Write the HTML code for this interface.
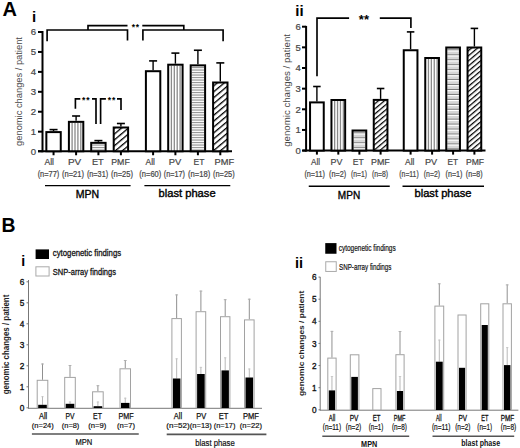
<!DOCTYPE html>
<html><head><meta charset="utf-8"><style>
html,body{margin:0;padding:0;background:#fff;width:520px;height:448px;overflow:hidden}
svg{display:block}
text{font-family:"Liberation Sans", sans-serif}
</style></head><body>
<svg width="520" height="448" viewBox="0 0 520 448">
<defs>
<pattern id="pv" patternUnits="userSpaceOnUse" width="2.6" height="10" x="0"><rect width="2.6" height="10" fill="#fff"/><rect x="0" width="1.4" height="10" fill="#9a9a9a"/></pattern>
<pattern id="et" patternUnits="userSpaceOnUse" width="10" height="2.6" y="0"><rect width="10" height="2.6" fill="#fff"/><rect y="0" width="10" height="1.3" fill="#999"/></pattern>
<pattern id="et2" patternUnits="userSpaceOnUse" width="10" height="4.9" y="0"><rect width="10" height="4.9" fill="#dcdcdc"/><rect y="0" width="10" height="1.1" fill="#7a7a7a"/><rect y="1.4" width="10" height="1.1" fill="#fff"/></pattern>
<pattern id="pmf" patternUnits="userSpaceOnUse" width="4.5" height="10" patternTransform="rotate(50)"><rect width="4.5" height="10" fill="#fff"/><rect x="0" width="1.3" height="10" fill="#000"/></pattern>
<pattern id="pmf2" patternUnits="userSpaceOnUse" width="3.9" height="10" patternTransform="rotate(50)"><rect width="3.9" height="10" fill="#fff"/><rect x="0" width="1.25" height="10" fill="#000"/></pattern>
</defs>
<rect width="520" height="448" fill="#fff"/>
<text x="2.6" y="15.7" font-size="20" font-weight="bold" text-anchor="start" fill="#000">A</text>
<text x="1.4" y="231.8" font-size="19.4" font-weight="bold" text-anchor="start" fill="#000">B</text>
<line x1="42.5" y1="31.0" x2="42.5" y2="152.25" stroke="#000" stroke-width="2"/>
<line x1="38" y1="151.25" x2="42.5" y2="151.25" stroke="#000" stroke-width="2"/>
<text x="36.2" y="154.7" font-size="9.6" font-weight="normal" text-anchor="end" fill="#474747" stroke="#474747" stroke-width="0.22">0</text>
<line x1="38" y1="131.67" x2="42.5" y2="131.67" stroke="#000" stroke-width="2"/>
<text x="36.2" y="134.76999999999998" font-size="9.6" font-weight="normal" text-anchor="end" fill="#474747" stroke="#474747" stroke-width="0.22">1</text>
<line x1="38" y1="111.74" x2="42.5" y2="111.74" stroke="#000" stroke-width="2"/>
<text x="36.2" y="114.83999999999999" font-size="9.6" font-weight="normal" text-anchor="end" fill="#474747" stroke="#474747" stroke-width="0.22">2</text>
<line x1="38" y1="91.81" x2="42.5" y2="91.81" stroke="#000" stroke-width="2"/>
<text x="36.2" y="94.91" font-size="9.6" font-weight="normal" text-anchor="end" fill="#474747" stroke="#474747" stroke-width="0.22">3</text>
<line x1="38" y1="71.88" x2="42.5" y2="71.88" stroke="#000" stroke-width="2"/>
<text x="36.2" y="74.97999999999999" font-size="9.6" font-weight="normal" text-anchor="end" fill="#474747" stroke="#474747" stroke-width="0.22">4</text>
<line x1="38" y1="51.94999999999999" x2="42.5" y2="51.94999999999999" stroke="#000" stroke-width="2"/>
<text x="36.2" y="55.04999999999999" font-size="9.6" font-weight="normal" text-anchor="end" fill="#474747" stroke="#474747" stroke-width="0.22">5</text>
<line x1="38" y1="32.019999999999996" x2="42.5" y2="32.019999999999996" stroke="#000" stroke-width="2"/>
<text x="36.2" y="35.12" font-size="9.6" font-weight="normal" text-anchor="end" fill="#474747" stroke="#474747" stroke-width="0.22">6</text>
<line x1="38" y1="151.25" x2="232" y2="151.25" stroke="#000" stroke-width="2"/>
<text transform="translate(22,91.5) rotate(-90)" x="0" y="0" font-size="9.3" font-weight="normal" text-anchor="middle" fill="#474747" textLength="108.8" lengthAdjust="spacingAndGlyphs">genomic changes / patient</text>
<text x="32" y="22" font-size="15" font-weight="bold" text-anchor="start" fill="#000">i</text>
<line x1="53.55" y1="129.6" x2="53.55" y2="131.1" stroke="#000" stroke-width="1.4"/>
<line x1="49.55" y1="129.6" x2="57.55" y2="129.6" stroke="#000" stroke-width="1.6"/>
<rect x="46.35" y="132.10" width="14.40" height="19.15" fill="#fff" stroke="none" stroke-width="0"/>
<rect x="46.35" y="132.10" width="14.40" height="19.15" fill="none" stroke="#000" stroke-width="2"/>
<line x1="53.55" y1="151.25" x2="53.55" y2="155.25" stroke="#000" stroke-width="2"/>
<line x1="76.1" y1="116" x2="76.1" y2="120.85" stroke="#000" stroke-width="1.4"/>
<line x1="72.1" y1="116" x2="80.1" y2="116" stroke="#000" stroke-width="1.6"/>
<rect x="68.90" y="121.85" width="14.40" height="29.40" fill="#fff" stroke="none" stroke-width="0"/>
<rect x="71.45" y="122.85" width="1.30" height="28.40" fill="#8a8a8a" stroke="none" stroke-width="0"/>
<rect x="74.35" y="122.85" width="1.30" height="28.40" fill="#8a8a8a" stroke="none" stroke-width="0"/>
<rect x="77.25" y="122.85" width="1.30" height="28.40" fill="#8a8a8a" stroke="none" stroke-width="0"/>
<rect x="80.15" y="122.85" width="1.30" height="28.40" fill="#8a8a8a" stroke="none" stroke-width="0"/>
<rect x="68.90" y="121.85" width="14.40" height="29.40" fill="none" stroke="#000" stroke-width="2"/>
<line x1="76.1" y1="151.25" x2="76.1" y2="155.25" stroke="#000" stroke-width="2"/>
<line x1="98.4" y1="140.6" x2="98.4" y2="141.85" stroke="#000" stroke-width="1.4"/>
<line x1="94.4" y1="140.6" x2="102.4" y2="140.6" stroke="#000" stroke-width="1.6"/>
<rect x="91.20" y="142.85" width="14.40" height="8.40" fill="#fff" stroke="none" stroke-width="0"/>
<rect x="92.20" y="144.45" width="12.40" height="1.20" fill="#999" stroke="none" stroke-width="0"/>
<rect x="92.20" y="146.95" width="12.40" height="1.20" fill="#999" stroke="none" stroke-width="0"/>
<rect x="92.20" y="149.45" width="12.40" height="1.20" fill="#999" stroke="none" stroke-width="0"/>
<rect x="91.20" y="142.85" width="14.40" height="8.40" fill="none" stroke="#000" stroke-width="2"/>
<line x1="98.4" y1="151.25" x2="98.4" y2="155.25" stroke="#000" stroke-width="2"/>
<line x1="120.9" y1="123.5" x2="120.9" y2="126.5" stroke="#000" stroke-width="1.4"/>
<line x1="116.9" y1="123.5" x2="124.9" y2="123.5" stroke="#000" stroke-width="1.6"/>
<rect x="113.70" y="127.50" width="14.40" height="23.75" fill="url(#pmf)" stroke="none" stroke-width="0"/>
<rect x="113.70" y="127.50" width="14.40" height="23.75" fill="none" stroke="#000" stroke-width="2"/>
<line x1="120.9" y1="151.25" x2="120.9" y2="155.25" stroke="#000" stroke-width="2"/>
<line x1="153.1" y1="60.9" x2="153.1" y2="70.19999999999999" stroke="#000" stroke-width="1.4"/>
<line x1="149.1" y1="60.9" x2="157.1" y2="60.9" stroke="#000" stroke-width="1.6"/>
<rect x="145.90" y="71.20" width="14.40" height="80.05" fill="#fff" stroke="none" stroke-width="0"/>
<rect x="145.90" y="71.20" width="14.40" height="80.05" fill="none" stroke="#000" stroke-width="2"/>
<line x1="153.1" y1="151.25" x2="153.1" y2="155.25" stroke="#000" stroke-width="2"/>
<line x1="175.4" y1="53.1" x2="175.4" y2="63.699999999999996" stroke="#000" stroke-width="1.4"/>
<line x1="171.4" y1="53.1" x2="179.4" y2="53.1" stroke="#000" stroke-width="1.6"/>
<rect x="168.20" y="64.70" width="14.40" height="86.55" fill="#fff" stroke="none" stroke-width="0"/>
<rect x="170.75" y="65.70" width="1.30" height="85.55" fill="#8a8a8a" stroke="none" stroke-width="0"/>
<rect x="173.65" y="65.70" width="1.30" height="85.55" fill="#8a8a8a" stroke="none" stroke-width="0"/>
<rect x="176.55" y="65.70" width="1.30" height="85.55" fill="#8a8a8a" stroke="none" stroke-width="0"/>
<rect x="179.45" y="65.70" width="1.30" height="85.55" fill="#8a8a8a" stroke="none" stroke-width="0"/>
<rect x="168.20" y="64.70" width="14.40" height="86.55" fill="none" stroke="#000" stroke-width="2"/>
<line x1="175.4" y1="151.25" x2="175.4" y2="155.25" stroke="#000" stroke-width="2"/>
<line x1="197.9" y1="50.25" x2="197.9" y2="64.35" stroke="#000" stroke-width="1.4"/>
<line x1="193.9" y1="50.25" x2="201.9" y2="50.25" stroke="#000" stroke-width="1.6"/>
<rect x="190.70" y="65.35" width="14.40" height="85.90" fill="#fff" stroke="none" stroke-width="0"/>
<rect x="191.70" y="66.95" width="12.40" height="1.20" fill="#999" stroke="none" stroke-width="0"/>
<rect x="191.70" y="69.45" width="12.40" height="1.20" fill="#999" stroke="none" stroke-width="0"/>
<rect x="191.70" y="71.95" width="12.40" height="1.20" fill="#999" stroke="none" stroke-width="0"/>
<rect x="191.70" y="74.45" width="12.40" height="1.20" fill="#999" stroke="none" stroke-width="0"/>
<rect x="191.70" y="76.95" width="12.40" height="1.20" fill="#999" stroke="none" stroke-width="0"/>
<rect x="191.70" y="79.45" width="12.40" height="1.20" fill="#999" stroke="none" stroke-width="0"/>
<rect x="191.70" y="81.95" width="12.40" height="1.20" fill="#999" stroke="none" stroke-width="0"/>
<rect x="191.70" y="84.45" width="12.40" height="1.20" fill="#999" stroke="none" stroke-width="0"/>
<rect x="191.70" y="86.95" width="12.40" height="1.20" fill="#999" stroke="none" stroke-width="0"/>
<rect x="191.70" y="89.45" width="12.40" height="1.20" fill="#999" stroke="none" stroke-width="0"/>
<rect x="191.70" y="91.95" width="12.40" height="1.20" fill="#999" stroke="none" stroke-width="0"/>
<rect x="191.70" y="94.45" width="12.40" height="1.20" fill="#999" stroke="none" stroke-width="0"/>
<rect x="191.70" y="96.95" width="12.40" height="1.20" fill="#999" stroke="none" stroke-width="0"/>
<rect x="191.70" y="99.45" width="12.40" height="1.20" fill="#999" stroke="none" stroke-width="0"/>
<rect x="191.70" y="101.95" width="12.40" height="1.20" fill="#999" stroke="none" stroke-width="0"/>
<rect x="191.70" y="104.45" width="12.40" height="1.20" fill="#999" stroke="none" stroke-width="0"/>
<rect x="191.70" y="106.95" width="12.40" height="1.20" fill="#999" stroke="none" stroke-width="0"/>
<rect x="191.70" y="109.45" width="12.40" height="1.20" fill="#999" stroke="none" stroke-width="0"/>
<rect x="191.70" y="111.95" width="12.40" height="1.20" fill="#999" stroke="none" stroke-width="0"/>
<rect x="191.70" y="114.45" width="12.40" height="1.20" fill="#999" stroke="none" stroke-width="0"/>
<rect x="191.70" y="116.95" width="12.40" height="1.20" fill="#999" stroke="none" stroke-width="0"/>
<rect x="191.70" y="119.45" width="12.40" height="1.20" fill="#999" stroke="none" stroke-width="0"/>
<rect x="191.70" y="121.95" width="12.40" height="1.20" fill="#999" stroke="none" stroke-width="0"/>
<rect x="191.70" y="124.45" width="12.40" height="1.20" fill="#999" stroke="none" stroke-width="0"/>
<rect x="191.70" y="126.95" width="12.40" height="1.20" fill="#999" stroke="none" stroke-width="0"/>
<rect x="191.70" y="129.45" width="12.40" height="1.20" fill="#999" stroke="none" stroke-width="0"/>
<rect x="191.70" y="131.95" width="12.40" height="1.20" fill="#999" stroke="none" stroke-width="0"/>
<rect x="191.70" y="134.45" width="12.40" height="1.20" fill="#999" stroke="none" stroke-width="0"/>
<rect x="191.70" y="136.95" width="12.40" height="1.20" fill="#999" stroke="none" stroke-width="0"/>
<rect x="191.70" y="139.45" width="12.40" height="1.20" fill="#999" stroke="none" stroke-width="0"/>
<rect x="191.70" y="141.95" width="12.40" height="1.20" fill="#999" stroke="none" stroke-width="0"/>
<rect x="191.70" y="144.45" width="12.40" height="1.20" fill="#999" stroke="none" stroke-width="0"/>
<rect x="191.70" y="146.95" width="12.40" height="1.20" fill="#999" stroke="none" stroke-width="0"/>
<rect x="191.70" y="149.45" width="12.40" height="1.20" fill="#999" stroke="none" stroke-width="0"/>
<rect x="190.70" y="65.35" width="14.40" height="85.90" fill="none" stroke="#000" stroke-width="2"/>
<line x1="197.9" y1="151.25" x2="197.9" y2="155.25" stroke="#000" stroke-width="2"/>
<line x1="220.3" y1="62.9" x2="220.3" y2="81.5" stroke="#000" stroke-width="1.4"/>
<line x1="216.3" y1="62.9" x2="224.3" y2="62.9" stroke="#000" stroke-width="1.6"/>
<rect x="213.10" y="82.50" width="14.40" height="68.75" fill="url(#pmf)" stroke="none" stroke-width="0"/>
<rect x="213.10" y="82.50" width="14.40" height="68.75" fill="none" stroke="#000" stroke-width="2"/>
<line x1="220.3" y1="151.25" x2="220.3" y2="155.25" stroke="#000" stroke-width="2"/>
<text x="49.2" y="165.4" font-size="9.6" font-weight="normal" text-anchor="middle" fill="#474747" textLength="9.6" lengthAdjust="spacingAndGlyphs" stroke="#474747" stroke-width="0.22">All</text>
<text x="74.6" y="165.4" font-size="9.6" font-weight="normal" text-anchor="middle" fill="#474747" textLength="13.25" lengthAdjust="spacingAndGlyphs" stroke="#474747" stroke-width="0.22">PV</text>
<text x="97.8" y="165.4" font-size="9.6" font-weight="normal" text-anchor="middle" fill="#474747" textLength="11.85" lengthAdjust="spacingAndGlyphs" stroke="#474747" stroke-width="0.22">ET</text>
<text x="120.5" y="165.4" font-size="9.6" font-weight="normal" text-anchor="middle" fill="#474747" textLength="18.5" lengthAdjust="spacingAndGlyphs" stroke="#474747" stroke-width="0.22">PMF</text>
<text x="150.3" y="165.4" font-size="9.6" font-weight="normal" text-anchor="middle" fill="#474747" textLength="9.4" lengthAdjust="spacingAndGlyphs" stroke="#474747" stroke-width="0.22">All</text>
<text x="175" y="165.4" font-size="9.6" font-weight="normal" text-anchor="middle" fill="#474747" textLength="12.5" lengthAdjust="spacingAndGlyphs" stroke="#474747" stroke-width="0.22">PV</text>
<text x="199" y="165.4" font-size="9.6" font-weight="normal" text-anchor="middle" fill="#474747" textLength="10.9" lengthAdjust="spacingAndGlyphs" stroke="#474747" stroke-width="0.22">ET</text>
<text x="224.4" y="165.4" font-size="9.6" font-weight="normal" text-anchor="middle" fill="#474747" textLength="19.6" lengthAdjust="spacingAndGlyphs" stroke="#474747" stroke-width="0.22">PMF</text>
<text x="48.5" y="177.2" font-size="8.4" font-weight="normal" text-anchor="middle" fill="#474747" textLength="21.7" lengthAdjust="spacingAndGlyphs" stroke="#474747" stroke-width="0.22">(n=77)</text>
<text x="73" y="177.2" font-size="8.4" font-weight="normal" text-anchor="middle" fill="#474747" textLength="22" lengthAdjust="spacingAndGlyphs" stroke="#474747" stroke-width="0.22">(n=21)</text>
<text x="97.5" y="177.2" font-size="8.4" font-weight="normal" text-anchor="middle" fill="#474747" textLength="21.2" lengthAdjust="spacingAndGlyphs" stroke="#474747" stroke-width="0.22">(n=31)</text>
<text x="122" y="177.2" font-size="8.4" font-weight="normal" text-anchor="middle" fill="#474747" textLength="22" lengthAdjust="spacingAndGlyphs" stroke="#474747" stroke-width="0.22">(n=25)</text>
<text x="150.3" y="177.2" font-size="8.4" font-weight="normal" text-anchor="middle" fill="#474747" textLength="21.9" lengthAdjust="spacingAndGlyphs" stroke="#474747" stroke-width="0.22">(n=60)</text>
<text x="174.4" y="177.2" font-size="8.4" font-weight="normal" text-anchor="middle" fill="#474747" textLength="21.2" lengthAdjust="spacingAndGlyphs" stroke="#474747" stroke-width="0.22">(n=17)</text>
<text x="199.1" y="177.2" font-size="8.4" font-weight="normal" text-anchor="middle" fill="#474747" textLength="22.2" lengthAdjust="spacingAndGlyphs" stroke="#474747" stroke-width="0.22">(n=18)</text>
<text x="223.8" y="177.2" font-size="8.4" font-weight="normal" text-anchor="middle" fill="#474747" textLength="21.6" lengthAdjust="spacingAndGlyphs" stroke="#474747" stroke-width="0.22">(n=25)</text>
<line x1="45" y1="185.6" x2="130.6" y2="185.6" stroke="#000" stroke-width="1.4"/>
<line x1="144.4" y1="185.6" x2="230.3" y2="185.6" stroke="#000" stroke-width="1.4"/>
<text x="87.5" y="197.9" font-size="11" font-weight="normal" text-anchor="middle" fill="#000" textLength="23.4" lengthAdjust="spacingAndGlyphs" stroke="#000" stroke-width="0.38">MPN</text>
<text x="187.1" y="197.3" font-size="10.8" font-weight="normal" text-anchor="middle" fill="#000" textLength="57" lengthAdjust="spacingAndGlyphs" stroke="#000" stroke-width="0.38">blast phase</text>
<path d="M47.1,41.3 V30 H127.5 V40.6" fill="none" stroke="#000" stroke-width="1.65"/>
<path d="M142.9,40.6 V30 H223.1 V41.3" fill="none" stroke="#000" stroke-width="1.65"/>
<path d="M88,30 V25.6 H127.5 M142.3,25.6 H183.8 V30" fill="none" stroke="#000" stroke-width="1.65"/>
<text x="133.3" y="30.1" font-size="8.5" font-weight="bold" text-anchor="middle" fill="#000">*</text>
<text x="137.5" y="30.1" font-size="8.5" font-weight="bold" text-anchor="middle" fill="#000">*</text>
<path d="M75.4,108.8 V98.8 H80.3 M92,98.8 H96 V124" fill="none" stroke="#000" stroke-width="1.65"/>
<path d="M100.6,124 V98.8 H105.9 M117,98.8 H121 V110" fill="none" stroke="#000" stroke-width="1.65"/>
<text x="83.7" y="102.6" font-size="8.5" font-weight="bold" text-anchor="middle" fill="#000">*</text>
<text x="87.9" y="102.6" font-size="8.5" font-weight="bold" text-anchor="middle" fill="#000">*</text>
<text x="109.5" y="102.6" font-size="8.5" font-weight="bold" text-anchor="middle" fill="#000">*</text>
<text x="113.6" y="102.6" font-size="8.5" font-weight="bold" text-anchor="middle" fill="#000">*</text>
<line x1="306.1" y1="25.9" x2="306.1" y2="151.6" stroke="#000" stroke-width="2"/>
<line x1="302" y1="150.6" x2="306.1" y2="150.6" stroke="#000" stroke-width="2"/>
<text x="300.8" y="154.0" font-size="9.5" font-weight="normal" text-anchor="end" fill="#474747" stroke="#474747" stroke-width="0.22">0</text>
<line x1="302" y1="129.95" x2="306.1" y2="129.95" stroke="#000" stroke-width="2"/>
<text x="300.8" y="133.35" font-size="9.5" font-weight="normal" text-anchor="end" fill="#474747" stroke="#474747" stroke-width="0.22">1</text>
<line x1="302" y1="109.3" x2="306.1" y2="109.3" stroke="#000" stroke-width="2"/>
<text x="300.8" y="112.7" font-size="9.5" font-weight="normal" text-anchor="end" fill="#474747" stroke="#474747" stroke-width="0.22">2</text>
<line x1="302" y1="88.65" x2="306.1" y2="88.65" stroke="#000" stroke-width="2"/>
<text x="300.8" y="92.05000000000001" font-size="9.5" font-weight="normal" text-anchor="end" fill="#474747" stroke="#474747" stroke-width="0.22">3</text>
<line x1="302" y1="68.0" x2="306.1" y2="68.0" stroke="#000" stroke-width="2"/>
<text x="300.8" y="71.4" font-size="9.5" font-weight="normal" text-anchor="end" fill="#474747" stroke="#474747" stroke-width="0.22">4</text>
<line x1="302" y1="47.349999999999994" x2="306.1" y2="47.349999999999994" stroke="#000" stroke-width="2"/>
<text x="300.8" y="50.74999999999999" font-size="9.5" font-weight="normal" text-anchor="end" fill="#474747" stroke="#474747" stroke-width="0.22">5</text>
<line x1="302" y1="26.700000000000003" x2="306.1" y2="26.700000000000003" stroke="#000" stroke-width="2"/>
<text x="300.8" y="30.1" font-size="9.5" font-weight="normal" text-anchor="end" fill="#474747" stroke="#474747" stroke-width="0.22">6</text>
<line x1="302.5" y1="150.6" x2="485.5" y2="150.6" stroke="#000" stroke-width="2"/>
<text transform="translate(289.8,90.4) rotate(-90)" x="0" y="0" font-size="9.6" font-weight="normal" text-anchor="middle" fill="#474747" textLength="112.8" lengthAdjust="spacingAndGlyphs">genomic changes / patient</text>
<text x="295.3" y="15.6" font-size="15" font-weight="bold" text-anchor="start" fill="#000">ii</text>
<line x1="316.9" y1="86.5" x2="316.9" y2="101.4" stroke="#000" stroke-width="1.4"/>
<line x1="313.15" y1="86.5" x2="320.65" y2="86.5" stroke="#000" stroke-width="1.6"/>
<rect x="310.05" y="102.40" width="13.70" height="48.20" fill="#fff" stroke="none" stroke-width="0"/>
<rect x="310.05" y="102.40" width="13.70" height="48.20" fill="none" stroke="#000" stroke-width="2"/>
<line x1="316.9" y1="150.6" x2="316.9" y2="154.6" stroke="#000" stroke-width="2"/>
<rect x="331.45" y="100.00" width="13.70" height="50.60" fill="#fff" stroke="none" stroke-width="0"/>
<rect x="334.00" y="101.00" width="1.30" height="49.60" fill="#8a8a8a" stroke="none" stroke-width="0"/>
<rect x="336.90" y="101.00" width="1.30" height="49.60" fill="#8a8a8a" stroke="none" stroke-width="0"/>
<rect x="339.80" y="101.00" width="1.30" height="49.60" fill="#8a8a8a" stroke="none" stroke-width="0"/>
<rect x="342.70" y="101.00" width="1.30" height="49.60" fill="#8a8a8a" stroke="none" stroke-width="0"/>
<rect x="331.45" y="100.00" width="13.70" height="50.60" fill="none" stroke="#000" stroke-width="2"/>
<line x1="338.3" y1="150.6" x2="338.3" y2="154.6" stroke="#000" stroke-width="2"/>
<rect x="352.55" y="130.50" width="13.70" height="20.10" fill="#d6d6d6" stroke="none" stroke-width="0"/>
<rect x="353.55" y="132.40" width="11.70" height="1.00" fill="#7a7a7a" stroke="none" stroke-width="0"/>
<rect x="353.55" y="133.50" width="11.70" height="1.10" fill="#fff" stroke="none" stroke-width="0"/>
<rect x="353.55" y="137.35" width="11.70" height="1.00" fill="#7a7a7a" stroke="none" stroke-width="0"/>
<rect x="353.55" y="138.45" width="11.70" height="1.10" fill="#fff" stroke="none" stroke-width="0"/>
<rect x="353.55" y="142.30" width="11.70" height="1.00" fill="#7a7a7a" stroke="none" stroke-width="0"/>
<rect x="353.55" y="143.40" width="11.70" height="1.10" fill="#fff" stroke="none" stroke-width="0"/>
<rect x="353.55" y="147.25" width="11.70" height="1.00" fill="#7a7a7a" stroke="none" stroke-width="0"/>
<rect x="353.55" y="148.35" width="11.70" height="1.10" fill="#fff" stroke="none" stroke-width="0"/>
<rect x="352.55" y="130.50" width="13.70" height="20.10" fill="none" stroke="#000" stroke-width="2"/>
<line x1="359.4" y1="150.6" x2="359.4" y2="154.6" stroke="#000" stroke-width="2"/>
<line x1="380.6" y1="88.5" x2="380.6" y2="98.9" stroke="#000" stroke-width="1.4"/>
<line x1="376.85" y1="88.5" x2="384.35" y2="88.5" stroke="#000" stroke-width="1.6"/>
<rect x="373.75" y="99.90" width="13.70" height="50.70" fill="url(#pmf2)" stroke="none" stroke-width="0"/>
<rect x="373.75" y="99.90" width="13.70" height="50.70" fill="none" stroke="#000" stroke-width="2"/>
<line x1="380.6" y1="150.6" x2="380.6" y2="154.6" stroke="#000" stroke-width="2"/>
<line x1="410.6" y1="31.9" x2="410.6" y2="49.25" stroke="#000" stroke-width="1.4"/>
<line x1="406.85" y1="31.9" x2="414.35" y2="31.9" stroke="#000" stroke-width="1.6"/>
<rect x="403.75" y="50.25" width="13.70" height="100.35" fill="#fff" stroke="none" stroke-width="0"/>
<rect x="403.75" y="50.25" width="13.70" height="100.35" fill="none" stroke="#000" stroke-width="2"/>
<line x1="410.6" y1="150.6" x2="410.6" y2="154.6" stroke="#000" stroke-width="2"/>
<rect x="425.25" y="58.00" width="13.70" height="92.60" fill="#fff" stroke="none" stroke-width="0"/>
<rect x="427.80" y="59.00" width="1.30" height="91.60" fill="#8a8a8a" stroke="none" stroke-width="0"/>
<rect x="430.70" y="59.00" width="1.30" height="91.60" fill="#8a8a8a" stroke="none" stroke-width="0"/>
<rect x="433.60" y="59.00" width="1.30" height="91.60" fill="#8a8a8a" stroke="none" stroke-width="0"/>
<rect x="436.50" y="59.00" width="1.30" height="91.60" fill="#8a8a8a" stroke="none" stroke-width="0"/>
<rect x="425.25" y="58.00" width="13.70" height="92.60" fill="none" stroke="#000" stroke-width="2"/>
<line x1="432.1" y1="150.6" x2="432.1" y2="154.6" stroke="#000" stroke-width="2"/>
<rect x="446.25" y="47.50" width="13.70" height="103.10" fill="#d6d6d6" stroke="none" stroke-width="0"/>
<rect x="447.25" y="49.40" width="11.70" height="1.00" fill="#7a7a7a" stroke="none" stroke-width="0"/>
<rect x="447.25" y="50.50" width="11.70" height="1.10" fill="#fff" stroke="none" stroke-width="0"/>
<rect x="447.25" y="54.35" width="11.70" height="1.00" fill="#7a7a7a" stroke="none" stroke-width="0"/>
<rect x="447.25" y="55.45" width="11.70" height="1.10" fill="#fff" stroke="none" stroke-width="0"/>
<rect x="447.25" y="59.30" width="11.70" height="1.00" fill="#7a7a7a" stroke="none" stroke-width="0"/>
<rect x="447.25" y="60.40" width="11.70" height="1.10" fill="#fff" stroke="none" stroke-width="0"/>
<rect x="447.25" y="64.25" width="11.70" height="1.00" fill="#7a7a7a" stroke="none" stroke-width="0"/>
<rect x="447.25" y="65.35" width="11.70" height="1.10" fill="#fff" stroke="none" stroke-width="0"/>
<rect x="447.25" y="69.20" width="11.70" height="1.00" fill="#7a7a7a" stroke="none" stroke-width="0"/>
<rect x="447.25" y="70.30" width="11.70" height="1.10" fill="#fff" stroke="none" stroke-width="0"/>
<rect x="447.25" y="74.15" width="11.70" height="1.00" fill="#7a7a7a" stroke="none" stroke-width="0"/>
<rect x="447.25" y="75.25" width="11.70" height="1.10" fill="#fff" stroke="none" stroke-width="0"/>
<rect x="447.25" y="79.10" width="11.70" height="1.00" fill="#7a7a7a" stroke="none" stroke-width="0"/>
<rect x="447.25" y="80.20" width="11.70" height="1.10" fill="#fff" stroke="none" stroke-width="0"/>
<rect x="447.25" y="84.05" width="11.70" height="1.00" fill="#7a7a7a" stroke="none" stroke-width="0"/>
<rect x="447.25" y="85.15" width="11.70" height="1.10" fill="#fff" stroke="none" stroke-width="0"/>
<rect x="447.25" y="89.00" width="11.70" height="1.00" fill="#7a7a7a" stroke="none" stroke-width="0"/>
<rect x="447.25" y="90.10" width="11.70" height="1.10" fill="#fff" stroke="none" stroke-width="0"/>
<rect x="447.25" y="93.95" width="11.70" height="1.00" fill="#7a7a7a" stroke="none" stroke-width="0"/>
<rect x="447.25" y="95.05" width="11.70" height="1.10" fill="#fff" stroke="none" stroke-width="0"/>
<rect x="447.25" y="98.90" width="11.70" height="1.00" fill="#7a7a7a" stroke="none" stroke-width="0"/>
<rect x="447.25" y="100.00" width="11.70" height="1.10" fill="#fff" stroke="none" stroke-width="0"/>
<rect x="447.25" y="103.85" width="11.70" height="1.00" fill="#7a7a7a" stroke="none" stroke-width="0"/>
<rect x="447.25" y="104.95" width="11.70" height="1.10" fill="#fff" stroke="none" stroke-width="0"/>
<rect x="447.25" y="108.80" width="11.70" height="1.00" fill="#7a7a7a" stroke="none" stroke-width="0"/>
<rect x="447.25" y="109.90" width="11.70" height="1.10" fill="#fff" stroke="none" stroke-width="0"/>
<rect x="447.25" y="113.75" width="11.70" height="1.00" fill="#7a7a7a" stroke="none" stroke-width="0"/>
<rect x="447.25" y="114.85" width="11.70" height="1.10" fill="#fff" stroke="none" stroke-width="0"/>
<rect x="447.25" y="118.70" width="11.70" height="1.00" fill="#7a7a7a" stroke="none" stroke-width="0"/>
<rect x="447.25" y="119.80" width="11.70" height="1.10" fill="#fff" stroke="none" stroke-width="0"/>
<rect x="447.25" y="123.65" width="11.70" height="1.00" fill="#7a7a7a" stroke="none" stroke-width="0"/>
<rect x="447.25" y="124.75" width="11.70" height="1.10" fill="#fff" stroke="none" stroke-width="0"/>
<rect x="447.25" y="128.60" width="11.70" height="1.00" fill="#7a7a7a" stroke="none" stroke-width="0"/>
<rect x="447.25" y="129.70" width="11.70" height="1.10" fill="#fff" stroke="none" stroke-width="0"/>
<rect x="447.25" y="133.55" width="11.70" height="1.00" fill="#7a7a7a" stroke="none" stroke-width="0"/>
<rect x="447.25" y="134.65" width="11.70" height="1.10" fill="#fff" stroke="none" stroke-width="0"/>
<rect x="447.25" y="138.50" width="11.70" height="1.00" fill="#7a7a7a" stroke="none" stroke-width="0"/>
<rect x="447.25" y="139.60" width="11.70" height="1.10" fill="#fff" stroke="none" stroke-width="0"/>
<rect x="447.25" y="143.45" width="11.70" height="1.00" fill="#7a7a7a" stroke="none" stroke-width="0"/>
<rect x="447.25" y="144.55" width="11.70" height="1.10" fill="#fff" stroke="none" stroke-width="0"/>
<rect x="447.25" y="148.40" width="11.70" height="1.00" fill="#7a7a7a" stroke="none" stroke-width="0"/>
<rect x="447.25" y="149.50" width="11.70" height="1.10" fill="#fff" stroke="none" stroke-width="0"/>
<rect x="446.25" y="47.50" width="13.70" height="103.10" fill="none" stroke="#000" stroke-width="2"/>
<line x1="453.1" y1="150.6" x2="453.1" y2="154.6" stroke="#000" stroke-width="2"/>
<line x1="474.4" y1="28.4" x2="474.4" y2="46.5" stroke="#000" stroke-width="1.4"/>
<line x1="470.65" y1="28.4" x2="478.15" y2="28.4" stroke="#000" stroke-width="1.6"/>
<rect x="467.55" y="47.50" width="13.70" height="103.10" fill="url(#pmf2)" stroke="none" stroke-width="0"/>
<rect x="467.55" y="47.50" width="13.70" height="103.10" fill="none" stroke="#000" stroke-width="2"/>
<line x1="474.4" y1="150.6" x2="474.4" y2="154.6" stroke="#000" stroke-width="2"/>
<text x="315.5" y="165.4" font-size="9.6" font-weight="normal" text-anchor="middle" fill="#474747" textLength="9" lengthAdjust="spacingAndGlyphs" stroke="#474747" stroke-width="0.22">All</text>
<text x="336.5" y="165.4" font-size="9.6" font-weight="normal" text-anchor="middle" fill="#474747" textLength="11.9" lengthAdjust="spacingAndGlyphs" stroke="#474747" stroke-width="0.22">PV</text>
<text x="358.25" y="165.4" font-size="9.6" font-weight="normal" text-anchor="middle" fill="#474747" textLength="11" lengthAdjust="spacingAndGlyphs" stroke="#474747" stroke-width="0.22">ET</text>
<text x="380.4" y="165.4" font-size="9.6" font-weight="normal" text-anchor="middle" fill="#474747" textLength="18.75" lengthAdjust="spacingAndGlyphs" stroke="#474747" stroke-width="0.22">PMF</text>
<text x="409.7" y="165.4" font-size="9.6" font-weight="normal" text-anchor="middle" fill="#474747" textLength="9.4" lengthAdjust="spacingAndGlyphs" stroke="#474747" stroke-width="0.22">All</text>
<text x="431.1" y="165.4" font-size="9.6" font-weight="normal" text-anchor="middle" fill="#474747" textLength="12.25" lengthAdjust="spacingAndGlyphs" stroke="#474747" stroke-width="0.22">PV</text>
<text x="452.75" y="165.4" font-size="9.6" font-weight="normal" text-anchor="middle" fill="#474747" textLength="10.5" lengthAdjust="spacingAndGlyphs" stroke="#474747" stroke-width="0.22">ET</text>
<text x="475" y="165.4" font-size="9.6" font-weight="normal" text-anchor="middle" fill="#474747" textLength="18.1" lengthAdjust="spacingAndGlyphs" stroke="#474747" stroke-width="0.22">PMF</text>
<text x="314.7" y="177.4" font-size="8.4" font-weight="normal" text-anchor="middle" fill="#474747" textLength="20.6" lengthAdjust="spacingAndGlyphs" stroke="#474747" stroke-width="0.22">(n=11)</text>
<text x="337.6" y="177.4" font-size="8.4" font-weight="normal" text-anchor="middle" fill="#474747" textLength="17.25" lengthAdjust="spacingAndGlyphs" stroke="#474747" stroke-width="0.22">(n=2)</text>
<text x="359" y="177.4" font-size="8.4" font-weight="normal" text-anchor="middle" fill="#474747" textLength="15.9" lengthAdjust="spacingAndGlyphs" stroke="#474747" stroke-width="0.22">(n=1)</text>
<text x="380" y="177.4" font-size="8.4" font-weight="normal" text-anchor="middle" fill="#474747" textLength="16.2" lengthAdjust="spacingAndGlyphs" stroke="#474747" stroke-width="0.22">(n=8)</text>
<text x="409" y="177.4" font-size="8.4" font-weight="normal" text-anchor="middle" fill="#474747" textLength="19.3" lengthAdjust="spacingAndGlyphs" stroke="#474747" stroke-width="0.22">(n=11)</text>
<text x="431.9" y="177.4" font-size="8.4" font-weight="normal" text-anchor="middle" fill="#474747" textLength="16.25" lengthAdjust="spacingAndGlyphs" stroke="#474747" stroke-width="0.22">(n=2)</text>
<text x="454" y="177.4" font-size="8.4" font-weight="normal" text-anchor="middle" fill="#474747" textLength="16.9" lengthAdjust="spacingAndGlyphs" stroke="#474747" stroke-width="0.22">(n=1)</text>
<text x="474.2" y="177.4" font-size="8.4" font-weight="normal" text-anchor="middle" fill="#474747" textLength="16.7" lengthAdjust="spacingAndGlyphs" stroke="#474747" stroke-width="0.22">(n=8)</text>
<line x1="308.75" y1="186.3" x2="389.75" y2="186.3" stroke="#000" stroke-width="1.4"/>
<line x1="402.5" y1="186.3" x2="484" y2="186.3" stroke="#000" stroke-width="1.4"/>
<text x="349" y="199.0" font-size="11.4" font-weight="normal" text-anchor="middle" fill="#000" textLength="22.4" lengthAdjust="spacingAndGlyphs" stroke="#000" stroke-width="0.38">MPN</text>
<text x="443" y="197.4" font-size="10.8" font-weight="normal" text-anchor="middle" fill="#000" textLength="57" lengthAdjust="spacingAndGlyphs" stroke="#000" stroke-width="0.38">blast phase</text>
<path d="M317,76.3 V18.1 H349.1 M379.8,18.1 H410.9 V28.1" fill="none" stroke="#000" stroke-width="1.65"/>
<text x="361.2" y="23.799999999999997" font-size="13" font-weight="bold" text-anchor="middle" fill="#000">*</text>
<text x="366.5" y="23.799999999999997" font-size="13" font-weight="bold" text-anchor="middle" fill="#000">*</text>
<line x1="28.5" y1="280" x2="28.5" y2="408.8" stroke="#777" stroke-width="1"/>
<line x1="28.5" y1="408.3" x2="262" y2="408.3" stroke="#777" stroke-width="1"/>
<line x1="26.5" y1="407.8" x2="28.5" y2="407.8" stroke="#777" stroke-width="1"/>
<text x="24.3" y="410.6" font-size="8.9" font-weight="normal" text-anchor="end" fill="#111" textLength="4.6" lengthAdjust="spacingAndGlyphs" stroke="#111" stroke-width="0.35">0</text>
<line x1="26.5" y1="386.8" x2="28.5" y2="386.8" stroke="#777" stroke-width="1"/>
<text x="24.3" y="389.6" font-size="8.9" font-weight="normal" text-anchor="end" fill="#111" textLength="4.6" lengthAdjust="spacingAndGlyphs" stroke="#111" stroke-width="0.35">1</text>
<line x1="26.5" y1="365.8" x2="28.5" y2="365.8" stroke="#777" stroke-width="1"/>
<text x="24.3" y="368.6" font-size="8.9" font-weight="normal" text-anchor="end" fill="#111" textLength="4.6" lengthAdjust="spacingAndGlyphs" stroke="#111" stroke-width="0.35">2</text>
<line x1="26.5" y1="344.8" x2="28.5" y2="344.8" stroke="#777" stroke-width="1"/>
<text x="24.3" y="347.6" font-size="8.9" font-weight="normal" text-anchor="end" fill="#111" textLength="4.6" lengthAdjust="spacingAndGlyphs" stroke="#111" stroke-width="0.35">3</text>
<line x1="26.5" y1="323.8" x2="28.5" y2="323.8" stroke="#777" stroke-width="1"/>
<text x="24.3" y="326.6" font-size="8.9" font-weight="normal" text-anchor="end" fill="#111" textLength="4.6" lengthAdjust="spacingAndGlyphs" stroke="#111" stroke-width="0.35">4</text>
<line x1="26.5" y1="302.8" x2="28.5" y2="302.8" stroke="#777" stroke-width="1"/>
<text x="24.3" y="305.6" font-size="8.9" font-weight="normal" text-anchor="end" fill="#111" textLength="4.6" lengthAdjust="spacingAndGlyphs" stroke="#111" stroke-width="0.35">5</text>
<line x1="26.5" y1="281.8" x2="28.5" y2="281.8" stroke="#777" stroke-width="1"/>
<text x="24.3" y="284.6" font-size="8.9" font-weight="normal" text-anchor="end" fill="#111" textLength="4.6" lengthAdjust="spacingAndGlyphs" stroke="#111" stroke-width="0.35">6</text>
<text transform="translate(9.0,344.5) rotate(-90)" x="0" y="0" font-size="8.6" font-weight="bold" text-anchor="middle" fill="#222" textLength="99.7" lengthAdjust="spacingAndGlyphs">genomic changes / patient</text>
<text x="21.3" y="266.3" font-size="14" font-weight="bold" text-anchor="start" fill="#000">i</text>
<rect x="35.60" y="249.40" width="13.40" height="9.60" fill="#000" stroke="none" stroke-width="0"/>
<rect x="35.90" y="266.80" width="13.20" height="9.20" fill="#fff" stroke="#aaa" stroke-width="1"/>
<text x="52.8" y="255.7" font-size="9.4" font-weight="normal" text-anchor="start" fill="#111" textLength="68.3" lengthAdjust="spacingAndGlyphs" stroke="#111" stroke-width="0.3">cytogenetic findings</text>
<text x="52.8" y="275.4" font-size="9.4" font-weight="normal" text-anchor="start" fill="#111" textLength="63.2" lengthAdjust="spacingAndGlyphs" stroke="#111" stroke-width="0.3">SNP-array findings</text>
<line x1="42.5" y1="363.5" x2="42.5" y2="379.8" stroke="#909090" stroke-width="1"/>
<line x1="41.1" y1="364.0" x2="43.9" y2="364.0" stroke="#b0b0b0" stroke-width="1"/>
<rect x="37.20" y="380.30" width="10.60" height="27.70" fill="#fff" stroke="#a2a2a2" stroke-width="1"/>
<line x1="42.5" y1="396.2" x2="42.5" y2="404.8" stroke="#b0b0b0" stroke-width="0.9"/>
<line x1="41.3" y1="396.7" x2="43.7" y2="396.7" stroke="#c4c4c4" stroke-width="0.8"/>
<rect x="38.20" y="404.80" width="8.60" height="3.20" fill="#000" stroke="none" stroke-width="0"/>
<line x1="70.0" y1="365" x2="70.0" y2="376.9" stroke="#909090" stroke-width="1"/>
<line x1="68.6" y1="365.5" x2="71.4" y2="365.5" stroke="#b0b0b0" stroke-width="1"/>
<rect x="64.70" y="377.40" width="10.60" height="30.60" fill="#fff" stroke="#a2a2a2" stroke-width="1"/>
<line x1="70.0" y1="401.5" x2="70.0" y2="403.8" stroke="#b0b0b0" stroke-width="0.9"/>
<line x1="68.8" y1="402.0" x2="71.2" y2="402.0" stroke="#c4c4c4" stroke-width="0.8"/>
<rect x="65.70" y="403.80" width="8.60" height="4.20" fill="#000" stroke="none" stroke-width="0"/>
<line x1="97.9" y1="385.2" x2="97.9" y2="391.3" stroke="#909090" stroke-width="1"/>
<line x1="96.5" y1="385.7" x2="99.30000000000001" y2="385.7" stroke="#b0b0b0" stroke-width="1"/>
<rect x="92.60" y="391.80" width="10.60" height="16.20" fill="#fff" stroke="#a2a2a2" stroke-width="1"/>
<line x1="97.9" y1="401.5" x2="97.9" y2="406.2" stroke="#b0b0b0" stroke-width="0.9"/>
<line x1="96.7" y1="402.0" x2="99.10000000000001" y2="402.0" stroke="#c4c4c4" stroke-width="0.8"/>
<rect x="93.60" y="406.20" width="8.60" height="1.80" fill="#000" stroke="none" stroke-width="0"/>
<line x1="125.25" y1="360" x2="125.25" y2="368.3" stroke="#909090" stroke-width="1"/>
<line x1="123.85" y1="360.5" x2="126.65" y2="360.5" stroke="#b0b0b0" stroke-width="1"/>
<rect x="120.00" y="368.80" width="10.50" height="39.20" fill="#fff" stroke="#a2a2a2" stroke-width="1"/>
<line x1="125.25" y1="397.7" x2="125.25" y2="402.9" stroke="#b0b0b0" stroke-width="0.9"/>
<line x1="124.05" y1="398.2" x2="126.45" y2="398.2" stroke="#c4c4c4" stroke-width="0.8"/>
<rect x="121.00" y="402.90" width="8.50" height="5.10" fill="#000" stroke="none" stroke-width="0"/>
<line x1="176.65" y1="294.4" x2="176.65" y2="318.1" stroke="#909090" stroke-width="1"/>
<line x1="175.25" y1="294.9" x2="178.05" y2="294.9" stroke="#b0b0b0" stroke-width="1"/>
<rect x="171.90" y="318.60" width="9.50" height="89.40" fill="#fff" stroke="#a2a2a2" stroke-width="1"/>
<line x1="176.65" y1="358.3" x2="176.65" y2="378.5" stroke="#b0b0b0" stroke-width="0.9"/>
<line x1="175.45000000000002" y1="358.8" x2="177.85" y2="358.8" stroke="#c4c4c4" stroke-width="0.8"/>
<rect x="172.90" y="378.50" width="7.50" height="29.50" fill="#000" stroke="none" stroke-width="0"/>
<line x1="200.89999999999998" y1="290.6" x2="200.89999999999998" y2="311.2" stroke="#909090" stroke-width="1"/>
<line x1="199.49999999999997" y1="291.1" x2="202.29999999999998" y2="291.1" stroke="#b0b0b0" stroke-width="1"/>
<rect x="196.10" y="311.70" width="9.60" height="96.30" fill="#fff" stroke="#a2a2a2" stroke-width="1"/>
<line x1="200.89999999999998" y1="366.9" x2="200.89999999999998" y2="374" stroke="#b0b0b0" stroke-width="0.9"/>
<line x1="199.7" y1="367.4" x2="202.09999999999997" y2="367.4" stroke="#c4c4c4" stroke-width="0.8"/>
<rect x="197.10" y="374.00" width="7.60" height="34.00" fill="#000" stroke="none" stroke-width="0"/>
<line x1="225.2" y1="299.2" x2="225.2" y2="316.2" stroke="#909090" stroke-width="1"/>
<line x1="223.79999999999998" y1="299.7" x2="226.6" y2="299.7" stroke="#b0b0b0" stroke-width="1"/>
<rect x="220.50" y="316.70" width="9.40" height="91.30" fill="#fff" stroke="#a2a2a2" stroke-width="1"/>
<line x1="225.2" y1="357.3" x2="225.2" y2="370.4" stroke="#b0b0b0" stroke-width="0.9"/>
<line x1="224.0" y1="357.8" x2="226.39999999999998" y2="357.8" stroke="#c4c4c4" stroke-width="0.8"/>
<rect x="221.50" y="370.40" width="7.40" height="37.60" fill="#000" stroke="none" stroke-width="0"/>
<line x1="249.3" y1="298.7" x2="249.3" y2="319.4" stroke="#909090" stroke-width="1"/>
<line x1="247.9" y1="299.2" x2="250.70000000000002" y2="299.2" stroke="#b0b0b0" stroke-width="1"/>
<rect x="244.50" y="319.90" width="9.60" height="88.10" fill="#fff" stroke="#a2a2a2" stroke-width="1"/>
<line x1="249.3" y1="368.5" x2="249.3" y2="377.5" stroke="#b0b0b0" stroke-width="0.9"/>
<line x1="248.10000000000002" y1="369.0" x2="250.5" y2="369.0" stroke="#c4c4c4" stroke-width="0.8"/>
<rect x="245.50" y="377.50" width="7.60" height="30.50" fill="#000" stroke="none" stroke-width="0"/>
<text x="43.1" y="418.5" font-size="8.6" font-weight="normal" text-anchor="middle" fill="#111" textLength="8.3" lengthAdjust="spacingAndGlyphs" stroke="#111" stroke-width="0.25">All</text>
<text x="70.1" y="418.5" font-size="8.6" font-weight="normal" text-anchor="middle" fill="#111" textLength="9" lengthAdjust="spacingAndGlyphs" stroke="#111" stroke-width="0.25">PV</text>
<text x="97.5" y="418.5" font-size="8.6" font-weight="normal" text-anchor="middle" fill="#111" textLength="8.8" lengthAdjust="spacingAndGlyphs" stroke="#111" stroke-width="0.25">ET</text>
<text x="126.1" y="418.5" font-size="8.6" font-weight="normal" text-anchor="middle" fill="#111" textLength="15.2" lengthAdjust="spacingAndGlyphs" stroke="#111" stroke-width="0.25">PMF</text>
<text x="178" y="418.5" font-size="8.6" font-weight="normal" text-anchor="middle" fill="#111" textLength="8.3" lengthAdjust="spacingAndGlyphs" stroke="#111" stroke-width="0.25">All</text>
<text x="201.2" y="418.5" font-size="8.6" font-weight="normal" text-anchor="middle" fill="#111" textLength="10" lengthAdjust="spacingAndGlyphs" stroke="#111" stroke-width="0.25">PV</text>
<text x="223.5" y="418.5" font-size="8.6" font-weight="normal" text-anchor="middle" fill="#111" textLength="9.6" lengthAdjust="spacingAndGlyphs" stroke="#111" stroke-width="0.25">ET</text>
<text x="250.9" y="418.5" font-size="8.6" font-weight="normal" text-anchor="middle" fill="#111" textLength="16" lengthAdjust="spacingAndGlyphs" stroke="#111" stroke-width="0.25">PMF</text>
<text x="42.8" y="428.4" font-size="8" font-weight="normal" text-anchor="middle" fill="#111" textLength="21.9" lengthAdjust="spacingAndGlyphs" stroke="#111" stroke-width="0.2">(n=24)</text>
<text x="70.6" y="428.4" font-size="8" font-weight="normal" text-anchor="middle" fill="#111" textLength="17.5" lengthAdjust="spacingAndGlyphs" stroke="#111" stroke-width="0.2">(n=8)</text>
<text x="97.2" y="428.4" font-size="8" font-weight="normal" text-anchor="middle" fill="#111" textLength="18.1" lengthAdjust="spacingAndGlyphs" stroke="#111" stroke-width="0.2">(n=9)</text>
<text x="126" y="428.4" font-size="8" font-weight="normal" text-anchor="middle" fill="#111" textLength="18.1" lengthAdjust="spacingAndGlyphs" stroke="#111" stroke-width="0.2">(n=7)</text>
<text x="178" y="428.4" font-size="8" font-weight="normal" text-anchor="middle" fill="#111" textLength="23.5" lengthAdjust="spacingAndGlyphs" stroke="#111" stroke-width="0.2">(n=52)</text>
<text x="200.8" y="428.4" font-size="8" font-weight="normal" text-anchor="middle" fill="#111" textLength="22.1" lengthAdjust="spacingAndGlyphs" stroke="#111" stroke-width="0.2">(n=13)</text>
<text x="224.6" y="428.4" font-size="8" font-weight="normal" text-anchor="middle" fill="#111" textLength="21.6" lengthAdjust="spacingAndGlyphs" stroke="#111" stroke-width="0.2">(n=17)</text>
<text x="250.9" y="428.4" font-size="8" font-weight="normal" text-anchor="middle" fill="#111" textLength="22.1" lengthAdjust="spacingAndGlyphs" stroke="#111" stroke-width="0.2">(n=22)</text>
<line x1="31.9" y1="434" x2="138.75" y2="434" stroke="#555" stroke-width="1.6"/>
<line x1="166.7" y1="434.4" x2="266.4" y2="434.4" stroke="#555" stroke-width="1.6"/>
<text x="83.85" y="445.4" font-size="8.8" font-weight="normal" text-anchor="middle" fill="#111" textLength="16.9" lengthAdjust="spacingAndGlyphs" stroke="#111" stroke-width="0.2">MPN</text>
<text x="215" y="445.7" font-size="9.2" font-weight="normal" text-anchor="middle" fill="#111" textLength="39.4" lengthAdjust="spacingAndGlyphs" stroke="#111" stroke-width="0.2">blast phase</text>
<line x1="320.2" y1="276.9" x2="320.2" y2="410.7" stroke="#777" stroke-width="1"/>
<line x1="320.2" y1="410.2" x2="518.4" y2="410.2" stroke="#777" stroke-width="1"/>
<line x1="318.5" y1="409.8" x2="320.2" y2="409.8" stroke="#777" stroke-width="1"/>
<text x="316.6" y="412.90000000000003" font-size="9.2" font-weight="normal" text-anchor="end" fill="#111" textLength="4.6" lengthAdjust="spacingAndGlyphs" stroke="#111" stroke-width="0.35">0</text>
<line x1="318.5" y1="387.68" x2="320.2" y2="387.68" stroke="#777" stroke-width="1"/>
<text x="316.6" y="390.78000000000003" font-size="9.2" font-weight="normal" text-anchor="end" fill="#111" textLength="4.6" lengthAdjust="spacingAndGlyphs" stroke="#111" stroke-width="0.35">1</text>
<line x1="318.5" y1="365.56" x2="320.2" y2="365.56" stroke="#777" stroke-width="1"/>
<text x="316.6" y="368.66" font-size="9.2" font-weight="normal" text-anchor="end" fill="#111" textLength="4.6" lengthAdjust="spacingAndGlyphs" stroke="#111" stroke-width="0.35">2</text>
<line x1="318.5" y1="343.44" x2="320.2" y2="343.44" stroke="#777" stroke-width="1"/>
<text x="316.6" y="346.54" font-size="9.2" font-weight="normal" text-anchor="end" fill="#111" textLength="4.6" lengthAdjust="spacingAndGlyphs" stroke="#111" stroke-width="0.35">3</text>
<line x1="318.5" y1="321.32" x2="320.2" y2="321.32" stroke="#777" stroke-width="1"/>
<text x="316.6" y="324.42" font-size="9.2" font-weight="normal" text-anchor="end" fill="#111" textLength="4.6" lengthAdjust="spacingAndGlyphs" stroke="#111" stroke-width="0.35">4</text>
<line x1="318.5" y1="299.2" x2="320.2" y2="299.2" stroke="#777" stroke-width="1"/>
<text x="316.6" y="302.3" font-size="9.2" font-weight="normal" text-anchor="end" fill="#111" textLength="4.6" lengthAdjust="spacingAndGlyphs" stroke="#111" stroke-width="0.35">5</text>
<line x1="318.5" y1="277.08000000000004" x2="320.2" y2="277.08000000000004" stroke="#777" stroke-width="1"/>
<text x="316.6" y="280.18000000000006" font-size="9.2" font-weight="normal" text-anchor="end" fill="#111" textLength="4.6" lengthAdjust="spacingAndGlyphs" stroke="#111" stroke-width="0.35">6</text>
<text transform="translate(303.5,343.4) rotate(-90)" x="0" y="0" font-size="7.2" font-weight="bold" text-anchor="middle" fill="#222" textLength="105.3" lengthAdjust="spacingAndGlyphs">genomic changes / patient</text>
<text x="295" y="268.1" font-size="14.6" font-weight="bold" text-anchor="start" fill="#000">ii</text>
<rect x="325.25" y="243.10" width="11.25" height="10.65" fill="#000" stroke="none" stroke-width="0"/>
<rect x="325.75" y="261.75" width="10.50" height="9.70" fill="#fff" stroke="#aaa" stroke-width="1"/>
<text x="338.7" y="250.5" font-size="8.8" font-weight="normal" text-anchor="start" fill="#111" textLength="57" lengthAdjust="spacingAndGlyphs" stroke="#111" stroke-width="0.2">cytogenetic findings</text>
<text x="339" y="269.9" font-size="8.8" font-weight="normal" text-anchor="start" fill="#111" textLength="52.4" lengthAdjust="spacingAndGlyphs" stroke="#111" stroke-width="0.2">SNP-array findings</text>
<line x1="331.95000000000005" y1="330.9" x2="331.95000000000005" y2="357.6" stroke="#909090" stroke-width="1"/>
<line x1="330.55000000000007" y1="331.4" x2="333.35" y2="331.4" stroke="#b0b0b0" stroke-width="1"/>
<rect x="327.80" y="358.10" width="8.30" height="51.90" fill="#fff" stroke="#a2a2a2" stroke-width="1"/>
<line x1="331.95000000000005" y1="376" x2="331.95000000000005" y2="390.4" stroke="#b0b0b0" stroke-width="0.9"/>
<line x1="330.75000000000006" y1="376.5" x2="333.15000000000003" y2="376.5" stroke="#c4c4c4" stroke-width="0.8"/>
<rect x="328.80" y="390.40" width="6.30" height="19.60" fill="#000" stroke="none" stroke-width="0"/>
<rect x="350.30" y="354.80" width="8.60" height="55.20" fill="#fff" stroke="#a2a2a2" stroke-width="1"/>
<rect x="351.30" y="376.90" width="6.60" height="33.10" fill="#000" stroke="none" stroke-width="0"/>
<rect x="372.80" y="388.60" width="8.20" height="21.40" fill="#fff" stroke="#a2a2a2" stroke-width="1"/>
<line x1="400.0" y1="331" x2="400.0" y2="354.2" stroke="#909090" stroke-width="1"/>
<line x1="398.6" y1="331.5" x2="401.4" y2="331.5" stroke="#b0b0b0" stroke-width="1"/>
<rect x="395.90" y="354.70" width="8.20" height="55.30" fill="#fff" stroke="#a2a2a2" stroke-width="1"/>
<line x1="400.0" y1="376" x2="400.0" y2="391" stroke="#b0b0b0" stroke-width="0.9"/>
<line x1="398.8" y1="376.5" x2="401.2" y2="376.5" stroke="#c4c4c4" stroke-width="0.8"/>
<rect x="396.90" y="391.00" width="6.20" height="19.00" fill="#000" stroke="none" stroke-width="0"/>
<line x1="439.29999999999995" y1="283.3" x2="439.29999999999995" y2="305.6" stroke="#909090" stroke-width="1"/>
<line x1="437.9" y1="283.8" x2="440.69999999999993" y2="283.8" stroke="#b0b0b0" stroke-width="1"/>
<rect x="434.90" y="306.10" width="8.80" height="103.90" fill="#fff" stroke="#a2a2a2" stroke-width="1"/>
<line x1="439.29999999999995" y1="339.6" x2="439.29999999999995" y2="361.7" stroke="#b0b0b0" stroke-width="0.9"/>
<line x1="438.09999999999997" y1="340.1" x2="440.49999999999994" y2="340.1" stroke="#c4c4c4" stroke-width="0.8"/>
<rect x="435.90" y="361.70" width="6.80" height="48.30" fill="#000" stroke="none" stroke-width="0"/>
<rect x="458.00" y="315.00" width="8.10" height="95.00" fill="#fff" stroke="#a2a2a2" stroke-width="1"/>
<rect x="459.00" y="367.80" width="6.10" height="42.20" fill="#000" stroke="none" stroke-width="0"/>
<rect x="480.70" y="303.80" width="8.10" height="106.20" fill="#fff" stroke="#a2a2a2" stroke-width="1"/>
<rect x="481.70" y="325.00" width="6.10" height="85.00" fill="#000" stroke="none" stroke-width="0"/>
<line x1="507.2" y1="284.4" x2="507.2" y2="303.3" stroke="#909090" stroke-width="1"/>
<line x1="505.8" y1="284.9" x2="508.59999999999997" y2="284.9" stroke="#b0b0b0" stroke-width="1"/>
<rect x="503.00" y="303.80" width="8.40" height="106.20" fill="#fff" stroke="#a2a2a2" stroke-width="1"/>
<line x1="507.2" y1="347.1" x2="507.2" y2="365.1" stroke="#b0b0b0" stroke-width="0.9"/>
<line x1="506.0" y1="347.6" x2="508.4" y2="347.6" stroke="#c4c4c4" stroke-width="0.8"/>
<rect x="504.00" y="365.10" width="6.40" height="44.90" fill="#000" stroke="none" stroke-width="0"/>
<text x="332" y="421.3" font-size="8.2" font-weight="normal" text-anchor="middle" fill="#111" textLength="6.4" lengthAdjust="spacingAndGlyphs" stroke="#111" stroke-width="0.3">All</text>
<text x="354" y="421.3" font-size="8.2" font-weight="normal" text-anchor="middle" fill="#111" textLength="8.7" lengthAdjust="spacingAndGlyphs" stroke="#111" stroke-width="0.3">PV</text>
<text x="376.5" y="421.3" font-size="8.2" font-weight="normal" text-anchor="middle" fill="#111" textLength="7.7" lengthAdjust="spacingAndGlyphs" stroke="#111" stroke-width="0.3">ET</text>
<text x="399.6" y="421.3" font-size="8.2" font-weight="normal" text-anchor="middle" fill="#111" textLength="11.6" lengthAdjust="spacingAndGlyphs" stroke="#111" stroke-width="0.3">PMF</text>
<text x="438.8" y="421.3" font-size="8.2" font-weight="normal" text-anchor="middle" fill="#111" textLength="5.5" lengthAdjust="spacingAndGlyphs" stroke="#111" stroke-width="0.3">All</text>
<text x="462.8" y="421.3" font-size="8.2" font-weight="normal" text-anchor="middle" fill="#111" textLength="8.6" lengthAdjust="spacingAndGlyphs" stroke="#111" stroke-width="0.3">PV</text>
<text x="484.8" y="421.3" font-size="8.2" font-weight="normal" text-anchor="middle" fill="#111" textLength="7.1" lengthAdjust="spacingAndGlyphs" stroke="#111" stroke-width="0.3">ET</text>
<text x="507.5" y="421.3" font-size="8.2" font-weight="normal" text-anchor="middle" fill="#111" textLength="13.4" lengthAdjust="spacingAndGlyphs" stroke="#111" stroke-width="0.3">PMF</text>
<text x="331.9" y="430.3" font-size="8.2" font-weight="normal" text-anchor="middle" fill="#111" textLength="18.3" lengthAdjust="spacingAndGlyphs" stroke="#111" stroke-width="0.2">(n=11)</text>
<text x="353.5" y="430.3" font-size="8.2" font-weight="normal" text-anchor="middle" fill="#111" textLength="15.4" lengthAdjust="spacingAndGlyphs" stroke="#111" stroke-width="0.2">(n=2)</text>
<text x="376" y="430.3" font-size="8.2" font-weight="normal" text-anchor="middle" fill="#111" textLength="14.5" lengthAdjust="spacingAndGlyphs" stroke="#111" stroke-width="0.2">(n=1)</text>
<text x="399.4" y="430.3" font-size="8.2" font-weight="normal" text-anchor="middle" fill="#111" textLength="15" lengthAdjust="spacingAndGlyphs" stroke="#111" stroke-width="0.2">(n=8)</text>
<text x="441.2" y="430.3" font-size="8.2" font-weight="normal" text-anchor="middle" fill="#111" textLength="18.5" lengthAdjust="spacingAndGlyphs" stroke="#111" stroke-width="0.2">(n=11)</text>
<text x="462.8" y="430.3" font-size="8.2" font-weight="normal" text-anchor="middle" fill="#111" textLength="15.2" lengthAdjust="spacingAndGlyphs" stroke="#111" stroke-width="0.2">(n=2)</text>
<text x="484.7" y="430.3" font-size="8.2" font-weight="normal" text-anchor="middle" fill="#111" textLength="14.8" lengthAdjust="spacingAndGlyphs" stroke="#111" stroke-width="0.2">(n=1)</text>
<text x="508.5" y="430.3" font-size="8.2" font-weight="normal" text-anchor="middle" fill="#111" textLength="15.4" lengthAdjust="spacingAndGlyphs" stroke="#111" stroke-width="0.2">(n=8)</text>
<line x1="322.3" y1="436.3" x2="409.2" y2="436.3" stroke="#555" stroke-width="1.6"/>
<line x1="432.5" y1="436.3" x2="514.2" y2="436.3" stroke="#555" stroke-width="1.6"/>
<text x="369.15" y="446.75" font-size="8.2" font-weight="bold" text-anchor="middle" fill="#111" textLength="16.1" lengthAdjust="spacingAndGlyphs">MPN</text>
<text x="480.7" y="446.3" font-size="8.6" font-weight="bold" text-anchor="middle" fill="#111" textLength="38.9" lengthAdjust="spacingAndGlyphs">blast phase</text>
</svg>
</body></html>
